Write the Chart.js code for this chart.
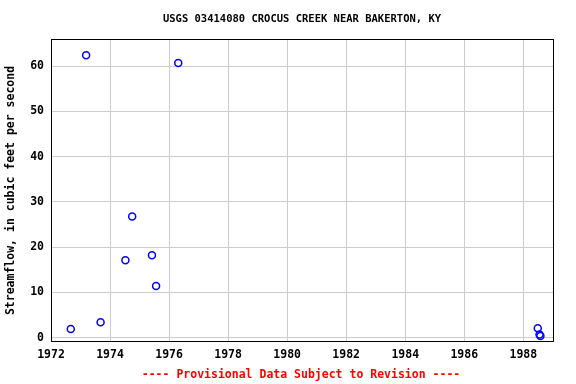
<!DOCTYPE html>
<html>
<head>
<meta charset="utf-8">
<script src="https://cdn.jsdelivr.net/npm/chart.js@4/dist/chart.umd.min.js"></script>
<style>
  html, body { margin: 0; padding: 0; background: #fff; }
  #wrap { width: 576px; height: 384px; }
</style>
</head>
<body>
<div id="wrap"><canvas id="myChart" width="576" height="384"></canvas></div>
<script>
// measurement dates (decimal years) and streamflow, cfs
const sampleYears = [1972.67, 1973.19, 1973.68, 1974.52, 1974.75, 1975.42, 1975.56, 1976.31, 1988.49, 1988.55, 1988.58];
const flowValues  = [1.9, 62.4, 3.4, 17.1, 26.8, 18.2, 11.4, 60.7, 2.1, 0.7, 0.4];

const xTicks = [1972, 1974, 1976, 1978, 1980, 1982, 1984, 1986, 1988];
const yTicks = [0, 10, 20, 30, 40, 50, 60];

const titleText = 'USGS 03414080 CROCUS CREEK NEAR BAKERTON, KY';
const footerText = '---- Provisional Data Subject to Revision ----';
const yLabel = 'Streamflow, in cubic feet per second';

const mono = "'DejaVu Sans Mono', 'Liberation Mono', monospace";

const points = sampleYears.map((yr, i) => ({ x: yr, y: flowValues[i] }));

const textPlugin = {
  id: 'textPlugin',
  afterDraw(chart) {
    const ctx = chart.ctx;
    ctx.save();
    ctx.textAlign = 'center';
    ctx.textBaseline = 'middle';
    ctx.font = 'bold 10.5px ' + mono;
    ctx.fillStyle = '#000';
    ctx.fillText(titleText, 302, 19);
    ctx.font = 'bold 11.5px ' + mono;
    ctx.fillStyle = '#ff0000';
    ctx.fillText(footerText, 301, 375);
    // frame
    const a = chart.chartArea;
    ctx.strokeStyle = '#000';
    ctx.lineWidth = 1;
    ctx.strokeRect(a.left + 0.5, a.top + 0.5, a.right - a.left - 1, a.bottom - a.top - 1);
    ctx.restore();
  }
};

let ctx = document.getElementById('myChart').getContext('2d');
let chart = new Chart(ctx, {
  type: 'scatter',
  data: {
    datasets: [{
      label: 'Streamflow',
      data: points,
      borderColor: '#0000ff',
      backgroundColor: 'rgba(0,0,0,0)',
      pointRadius: 3.5,
      pointBorderWidth: 1.5,
      pointStyle: 'circle'
    }]
  },
  options: {
    responsive: false,
    animation: false,
    layout: { padding: { top: 39, right: 22, left: 0, bottom: 0 } },
    plugins: {
      legend: { display: false },
      title: { display: false },
      tooltip: { enabled: false }
    },
    scales: {
      x: {
        type: 'linear',
        min: 1972,
        max: 1989.04,
        afterBuildTicks: (s) => { s.ticks = xTicks.map(v => ({ value: v })); },
        afterFit: (s) => { s.height = 42; },
        grid: { color: '#cccccc', drawTicks: false },
        border: { display: false },
        ticks: {
          padding: 6,
          color: '#000',
          maxRotation: 0,
          font: { family: mono, size: 11.5, weight: 'bold' },
          callback: (v) => String(v)
        }
      },
      y: {
        type: 'linear',
        min: -0.95,
        max: 66,
        afterBuildTicks: (s) => { s.ticks = yTicks.map(v => ({ value: v })); },
        afterFit: (s) => { s.width = 51; },
        grid: { color: '#cccccc', drawTicks: false },
        border: { display: false },
        title: {
          display: true,
          text: yLabel,
          color: '#000',
          padding: { top: 4, bottom: 0 },
          font: { family: mono, size: 11.5, weight: 'bold' }
        },
        ticks: {
          padding: 7,
          color: '#000',
          font: { family: mono, size: 11.5, weight: 'bold' },
          callback: (v) => String(v)
        }
      }
    }
  },
  plugins: [textPlugin]
});
</script>
</body>
</html>
